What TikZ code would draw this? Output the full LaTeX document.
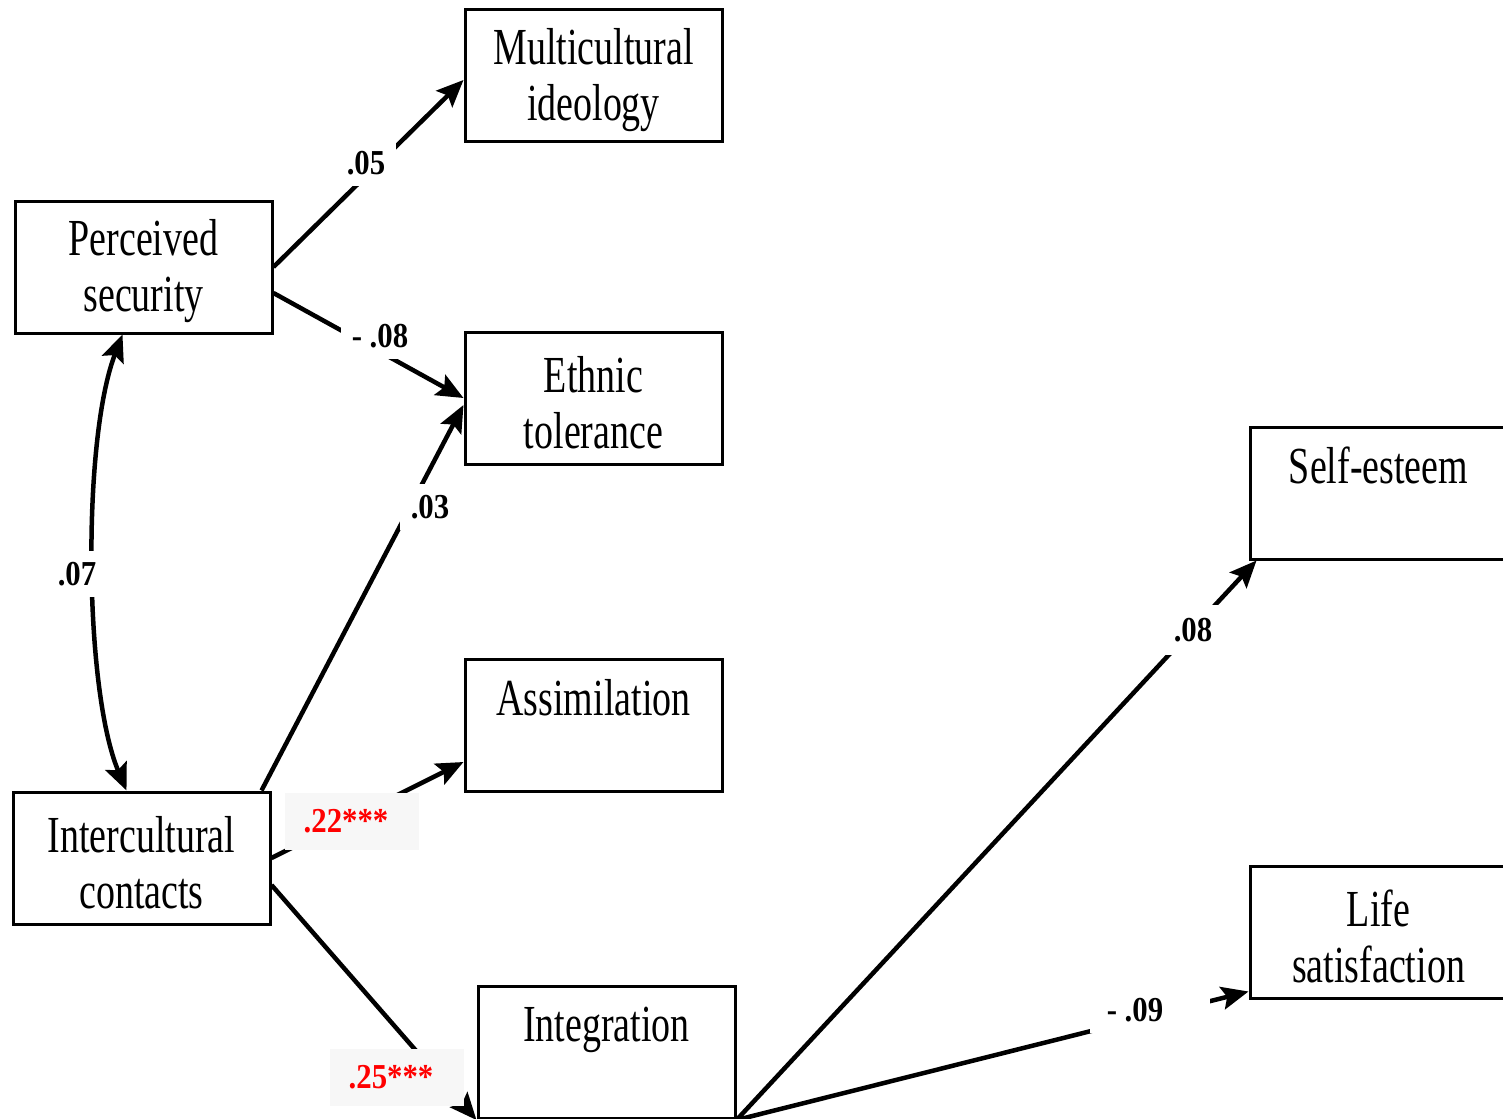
\documentclass[tikz,border=0pt]{standalone}
\usepackage{fontspec}
\setmainfont{Liberation Serif}
\newfontfamily\boxfam[FakeStretch=0.73]{Liberation Serif}
\newfontfamily\labfam[FakeStretch=0.88]{Liberation Serif}
\usetikzlibrary{arrows.meta}
\definecolor{lblgray}{HTML}{F7F7F7}
\newcommand{\tallstrut}{\rule{0pt}{45pt}}
\begin{document}
\begin{tikzpicture}[x=1pt,y=-1pt,
  box/.style={draw, line width=3pt, minimum width=257pt, minimum height=132pt,
    inner sep=0pt, align=center, font=\boxfam\fontsize{52}{56}\selectfont},
  arr/.style={line width=4.5pt, -{Stealth[length=27pt,width=23pt,inset=5pt]}},
  lbl/.style={fill=white, inner sep=11pt, font=\labfam\fontsize{35}{40}\selectfont\bfseries},
  sig/.style={fill=lblgray, minimum width=134pt, minimum height=57pt, inner sep=0pt,
    text=red, font=\labfam\fontsize{35}{40}\selectfont\bfseries}]
\clip (0,0) rectangle (1503,1118);
\fill[white] (0,0) rectangle (1503,1118);

\node[box] (mi) at (593.5,76) {\tallstrut Multicultural\\ideology};
\node[box] (ps) at (143.5,267) {\tallstrut Perceived\\security};
\node[box] (et) at (593.5,398) {\tallstrut Ethnic\\tolerance};
\node[box] (se) at (1378.5,493) {Self-esteem\\\mbox{}};
\node[box] (as) at (593.5,725.5) {Assimilation\\\mbox{}};
\node[box] (ic) at (141.5,858) {\tallstrut Intercultural\\contacts};
\node[box] (ls) at (1378.5,932) {\tallstrut Life\\satisfaction};
\node[box] (ig) at (606.5,1052.5) {Integration\\\mbox{}};

\draw[arr] (ps.east) -- ([yshift=-4pt]mi.west);
\draw[arr] ([yshift=-26pt]ps.east) -- ([yshift=0pt]et.west);
\draw[arr] ([xshift=-10pt]ic.north east) -- ([yshift=-7pt]et.west);
\draw[line width=4.5pt, {Stealth[length=27pt,width=23pt,inset=5pt]}-{Stealth[length=27pt,width=23pt,inset=5pt]}]
  ([xshift=-21pt]ps.south) .. controls (82,440) and (84,690) .. ([xshift=-15pt]ic.north);
\draw[arr] (ic.east) -- ([yshift=-36.5pt]as.west);
\draw[arr] ([yshift=-27pt]ic.east) -- (ig.south west);
\draw[arr] (ig.south east) -- ([xshift=8pt]se.south west);
\draw[arr] (ig.south east) -- ([yshift=8pt]ls.south west);

\node[lbl] (l05) at (366,163) {.05};
\node[lbl] (l08a) at (380,336) {- .08};
\node[lbl] (l03) at (430,507) {.03};
\node[lbl] (l07) at (77,574) {.07};
\node[lbl, inner sep=13pt] (l08b) at (1193,630) {.08};
\node[lbl, inner xsep=17pt] (l09) at (1150,1010) {- .09\kern30pt};
\node[sig] (l22) at (352,821) {.22***\kern12pt};
\node[sig] (l25) at (397,1077) {.25***\kern12pt};
\end{tikzpicture}
\end{document}
